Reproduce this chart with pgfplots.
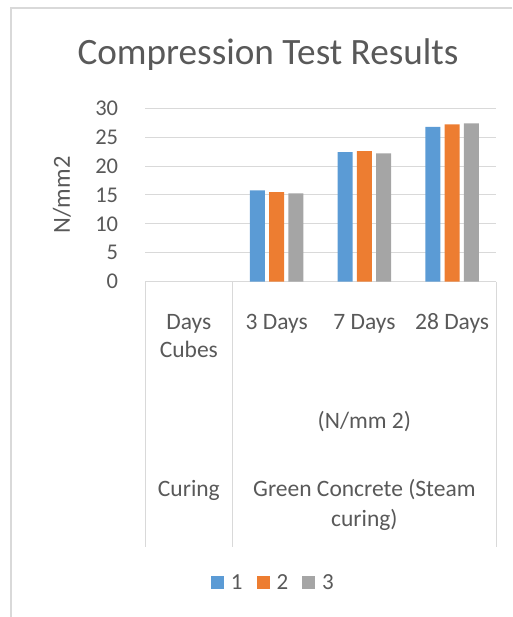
\documentclass[border=0pt]{standalone}
\usepackage{fontspec}
\setmainfont{Carlito}
\usepackage{pgfplots}
\pgfplotsset{compat=1.18}
\definecolor{cblue}{HTML}{5B9BD5}
\definecolor{corange}{HTML}{ED7D31}
\definecolor{cgray}{HTML}{A5A5A5}
\definecolor{ctext}{HTML}{595959}
\definecolor{cgrid}{HTML}{D9D9D9}
\pgfplotsset{sq/.style={legend image code/.code={\fill[##1] (0pt,-6.5pt) rectangle (13pt,6.5pt);}}}
\begin{document}
\begin{tikzpicture}[x=1pt,y=1pt]
\useasboundingbox (0,0) rectangle (512,617);
\draw[cgrid, line width=1.5pt] (11,0) -- (11,609) -- (512,609);
\node[anchor=base, text=ctext, font=\fontsize{37.2}{42}\selectfont, inner sep=0pt] at (268,552) {Compression Test Results};
\node[rotate=90, text=ctext, font=\fontsize{24.5}{28}\selectfont, inner sep=0pt] at (62,422) {N/mm2};
\begin{axis}[
  at={(145pt,335.3pt)}, anchor=south west, scale only axis,
  width=351pt, height=173.4pt,
  xmin=-0.5, xmax=3.5, ymin=0, ymax=30,
  ytick={0,5,...,30},
  ymajorgrids, major grid style={cgrid, line width=1pt},
  axis line style={draw=none},
  major tick length=0pt,
  xtick={0,1,2,3},
  xticklabels={{Days\\Cubes},{3 Days\\\mbox{}},{7 Days\\\mbox{}},{28 Days\\\mbox{}}},
  xticklabel style={anchor=base, align=center, yshift=-76.2pt, text=ctext,
    font=\fontsize{23.5}{28.5}\selectfont},
  yticklabel style={anchor=east, inner sep=0pt, xshift=-26.7pt, text=ctext,
    font=\fontsize{22.5}{27}\selectfont},
  /pgf/number format/assume math mode=true,
  ybar=4.3pt, bar width=15pt,
  clip=false,
  legend columns=3,
  legend style={at={(0.363,-1.735)}, anchor=center, draw=none, fill=none,
    font=\fontsize{23}{27}\selectfont, text=ctext,
    /tikz/every odd column/.append style={column sep=7pt},
    /tikz/every even column/.append style={column sep=14pt},
    nodes={inner xsep=0pt}},
]
\addplot[fill=cblue, draw=none, sq] coordinates {(1,15.8) (2,22.4) (3,26.8)};
\addplot[fill=corange, draw=none, sq] coordinates {(1,15.5) (2,22.6) (3,27.2)};
\addplot[fill=cgray, draw=none, sq] coordinates {(1,15.3) (2,22.2) (3,27.4)};
\legend{1,2,3}
\draw[cgrid, line width=1pt] (axis cs:-0.5,0) -- ++(0pt,-265pt);
\draw[cgrid, line width=1pt] (axis cs:0.5,0) -- ++(0pt,-265pt);
\draw[cgrid, line width=1pt] (axis cs:3.5,0) -- ++(0pt,-265pt);
\node[anchor=base, text=ctext, font=\fontsize{23.5}{28.5}\selectfont, inner sep=0pt]
  at ([yshift=-146.6pt]axis cs:2,0) {(N/mm 2)};
\node[anchor=base, text=ctext, font=\fontsize{23.5}{28.5}\selectfont, inner sep=0pt]
  at ([yshift=-215pt]axis cs:0,0) {Curing};
\node[anchor=base, align=center, text=ctext, font=\fontsize{23.5}{29.3}\selectfont, inner sep=0pt]
  at ([yshift=-244.3pt]axis cs:2,0) {Green Concrete (Steam\\curing)};
\end{axis}
\end{tikzpicture}
\end{document}
